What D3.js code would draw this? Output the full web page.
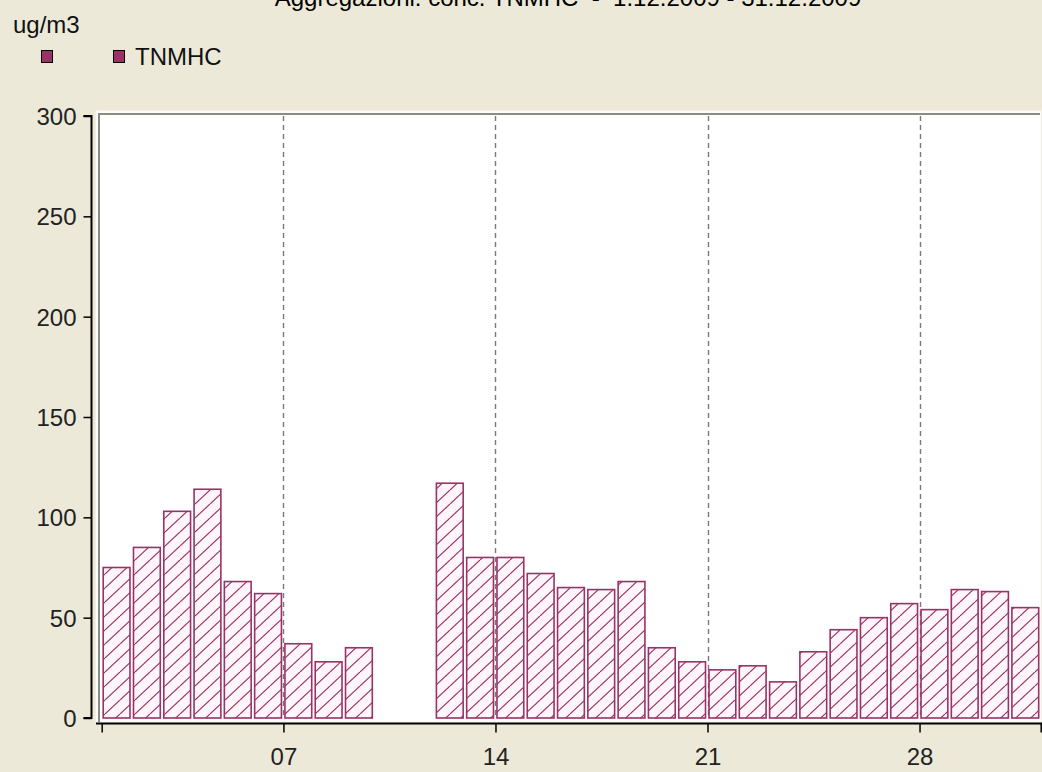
<!DOCTYPE html>
<html><head><meta charset="utf-8">
<script src="https://cdn.jsdelivr.net/npm/d3@7"></script>
<style>
html,body{margin:0;padding:0;background:#ECE9D8;}
svg{display:block;font-family:"Liberation Sans",Arial,sans-serif;}
</style></head>
<body><svg id="c" width="1042" height="772"></svg>
<script>
// ---- data ----
const days = d3.range(1, 32);
const values = [75, 85, 103, 114, 68, 62, 37, 28, 35, null, null, 117, 80, 80, 72, 65, 64, 68, 35, 28,
                24, 26, 18, 33, 44, 50, 57, 54, 64, 63, 55];
const yTicks = [0, 50, 100, 150, 200, 250, 300];
const xTickDays = [7, 14, 21, 28];
const xTickLabels = ["07", "14", "21", "28"];
const seriesName = "TNMHC";
const unit = "ug/m3";
const title = "Aggregazioni: conc. TNMHC  -  1.12.2009 - 31.12.2009";

const svg = d3.select("#c");
const col = "#993366";

const x = d3.scaleUtc().domain([Date.UTC(2009, 11, 1), Date.UTC(2010, 0, 1)]).range([101.7, 1040.7]);
const y = d3.scaleLinear().domain([0, 300]).range([718, 116]);
const dayDate = d => new Date(Date.UTC(2009, 11, d));

// pattern
const defs = svg.append("defs");
const pat = defs.append("pattern").attr("id", "hatch").attr("patternUnits", "userSpaceOnUse")
  .attr("width", 15).attr("height", 14);
pat.append("rect").attr("width", 15).attr("height", 14).attr("fill", "#fff6fc");
[[0, 15], [-15, 0], [15, 30]].forEach(([a, b]) =>
  pat.append("line").attr("x1", a).attr("y1", 14).attr("x2", b).attr("y2", 0)
    .attr("stroke", col).attr("stroke-width", 1.2));

// title (mostly clipped, as in the reference)
svg.append("text").attr("x", 568).attr("y", 6).attr("text-anchor", "middle")
  .attr("font-size", 24).attr("fill", "#000").style("white-space", "pre").text(title);

// unit label
svg.append("text").attr("x", 13).attr("y", 33).attr("font-size", 24).attr("fill", "#111").text(unit);

// legend
svg.append("rect").attr("x", 41.5).attr("y", 50.5).attr("width", 11).attr("height", 12)
  .attr("fill", col).attr("stroke", "#000").attr("stroke-width", 1);
svg.append("rect").attr("x", 113.5).attr("y", 50.5).attr("width", 11).attr("height", 12)
  .attr("fill", col).attr("stroke", "#000").attr("stroke-width", 1);
svg.append("text").attr("x", 135).attr("y", 65).attr("font-size", 24).attr("fill", "#111").text(seriesName);

// plot panel
svg.append("rect").attr("x", 96).attr("y", 111).attr("width", 945).attr("height", 611)
  .attr("fill", "#fff").attr("stroke", "#f8f7f0").attr("stroke-width", 1);
svg.append("line").attr("x1", 98).attr("x2", 1040).attr("y1", 114).attr("y2", 114)
  .attr("stroke", "#8c8b80").attr("stroke-width", 2);
svg.append("line").attr("x1", 99).attr("x2", 99).attr("y1", 113).attr("y2", 722)
  .attr("stroke", "#8c8b80").attr("stroke-width", 2);

// grid lines
svg.append("g").selectAll("line").data(xTickDays).join("line")
  .attr("x1", d => Math.round(x(dayDate(d))) + 0.5).attr("x2", d => Math.round(x(dayDate(d))) + 0.5)
  .attr("y1", 116).attr("y2", 718)
  .attr("stroke", "#7a7a7a").attr("stroke-width", 1.4).attr("stroke-dasharray", "5,4");

// bars
const data = days.map((d, i) => ({ d, v: values[i] })).filter(o => o.v != null);
svg.append("g").selectAll("rect").data(data).join("rect")
  .attr("x", o => x(dayDate(o.d)) + 1.5)
  .attr("width", o => x(dayDate(o.d + 1)) - x(dayDate(o.d)) - 3.5)
  .attr("y", o => y(o.v))
  .attr("height", o => y(0) - y(o.v))
  .attr("fill", "url(#hatch)").attr("stroke", col).attr("stroke-width", 1.6);

// y axis
const yAxis = d3.axisLeft(y).tickValues(yTicks).tickSize(8).tickPadding(7).tickFormat(d3.format("d"));
const gy = svg.append("g").attr("transform", "translate(91.5,0)").call(yAxis);
gy.select(".domain").attr("stroke", "#000").attr("stroke-width", 2).attr("d", "M-8,116H0V718H-8");
gy.selectAll(".tick line").attr("stroke", "#000").attr("stroke-width", 1.5);
gy.selectAll(".tick text").attr("font-size", 24).attr("font-family", "Liberation Sans, Arial, sans-serif")
  .attr("fill", "#222").attr("dy", "0.36em");

// x axis
const xTickDates = [dayDate(1), ...xTickDays.map(dayDate), new Date(Date.UTC(2010, 0, 1))];
const xAxis = d3.axisBottom(x).tickValues(xTickDates).tickSize(9).tickPadding(15)
  .tickFormat(dt => { const i = xTickDays.indexOf(dt.getUTCDate()); return (i >= 0 && dt.getUTCMonth() === 11) ? xTickLabels[i] : ""; });
const gx = svg.append("g").attr("transform", "translate(0,723.5)").call(xAxis);
gx.select(".domain").attr("stroke", "#000").attr("stroke-width", 2).attr("d", "M96,0H1042");
gx.selectAll(".tick line").attr("stroke", "#000").attr("stroke-width", 1.5);
gx.selectAll(".tick text").attr("font-size", 24).attr("font-family", "Liberation Sans, Arial, sans-serif")
  .attr("fill", "#222");
</script></body></html>
